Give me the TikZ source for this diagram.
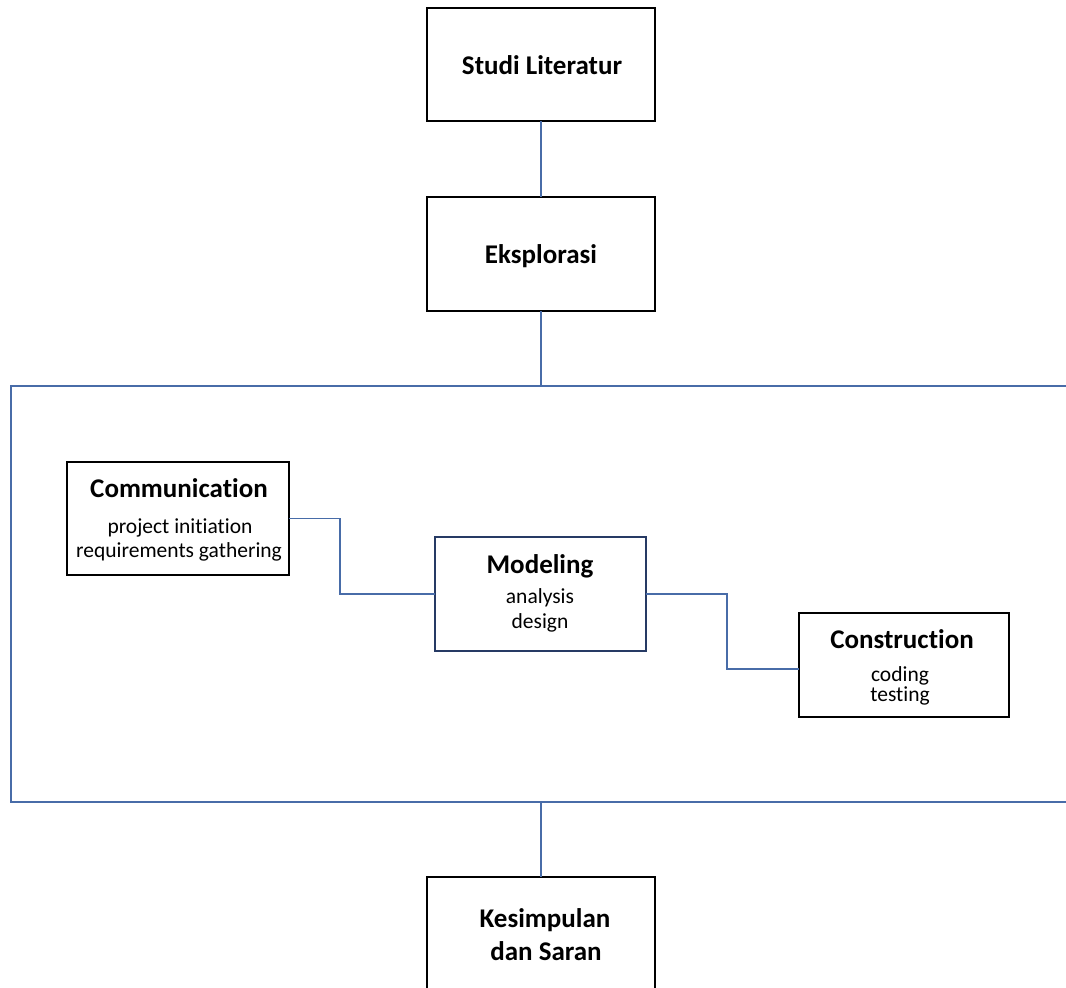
\documentclass[tikz,border=0pt]{standalone}
\usepackage{fontspec}
\setmainfont{Carlito}[Ligatures=NoCommon]
\definecolor{lnblue}{RGB}{72,108,168}
\definecolor{navy}{RGB}{38,58,100}
\begin{document}
\begin{tikzpicture}[x=1pt,y=-1pt,
  box/.style={draw=black,line width=1.2pt,inner sep=0pt,outer sep=0pt,fill=white},
  conn/.style={draw=lnblue,line width=1.1pt},
  ttl/.style={font=\fontsize{27}{32}\selectfont\bfseries,anchor=base,inner sep=0pt},
  sub/.style={font=\fontsize{21.5}{25}\selectfont,anchor=base,inner sep=0pt}]
\useasboundingbox (0,0) rectangle (1066,988);
\fill[white] (0,0) rectangle (1066,988);

% frame (open on the right)
\coordinate (ftr) at (1066,386);
\coordinate (ftl) at (11,386);
\coordinate (fbl) at (11,802);
\coordinate (fbr) at (1066,802);
\coordinate (ftop) at (541,386);
\coordinate (fbot) at (541,802);
\draw[conn] (ftr) -- (ftl) -- (fbl) -- (fbr);

% boxes
\node[box,minimum width=228pt,minimum height=113pt] (studi) at (541,64.5) {};
\node[box,minimum width=228pt,minimum height=114pt] (eksp) at (541,254) {};
\node[box,minimum width=222pt,minimum height=113pt] (comm) at (178,518.5) {};
\node[box,draw=navy,minimum width=211pt,minimum height=114pt] (model) at (540.5,594) {};
\node[box,minimum width=210pt,minimum height=104pt] (constr) at (904,665) {};
\node[box,minimum width=228pt,minimum height=130pt] (kes) at (541,942) {};

% texts
\node[ttl] (studiT) at (542,74) {Studi Literatur};
\node[ttl] (ekspT) at (541,263) {Eksplorasi};
\node[ttl] (commT) at (179,497) {Communication};
\node[sub] (commA) at (180,533) {project initiation};
\node[sub] (commB) at (179,557) {requirements gathering};
\node[ttl] (modelT) at (540,573) {Modeling};
\node[sub] (modelA) at (540,603) {analysis};
\node[sub] (modelB) at (540,628) {design};
\node[ttl] (constrT) at (902,648) {Construction};
\node[sub] (constrA) at (900,681) {coding};
\node[sub] (constrB) at (900,701) {testing};
\node[ttl] (kesA) at (545,927) {Kesimpulan};
\node[ttl] (kesB) at (546,960) {dan Saran};

% connectors
\draw[conn] (studi.south) -- (eksp.north);
\draw[conn] (eksp.south) -- (ftop);
\draw[conn] (fbot) -- (kes.north);
\draw[conn] (comm.east) -- ++(51,0) |- (model.west);
\draw[conn] (model.east) -- (727,594) |- ([yshift=-4pt]constr.west);
\end{tikzpicture}
\end{document}
